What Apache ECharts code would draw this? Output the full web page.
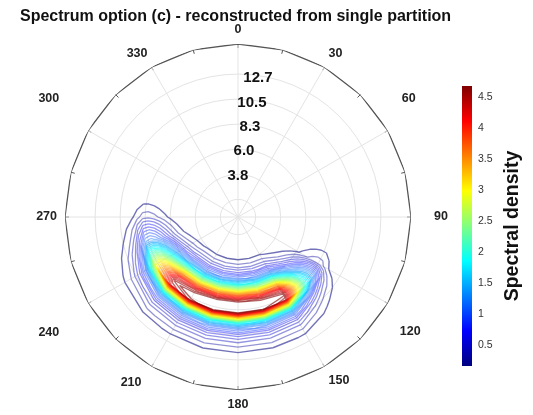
<!DOCTYPE html>
<html><head><meta charset="utf-8">
<script src="https://cdn.jsdelivr.net/npm/echarts@6/dist/echarts.min.js"></script>
<style>html,body{margin:0;padding:0;background:#fff}#c{width:533px;height:415px}</style>
</head><body><div id="c"></div>
<script>
// ---------- data ----------
const titleText = 'Spectrum option (c) - reconstructed from single partition';
const angleTickLabels = [0, 30, 60, 90, 120, 150, 180, 210, 240, 270, 300, 330];
const ringValues = [1.57, 3.8, 6.03, 8.26, 10.49, 12.72];
const ringLabelValues = [3.8, 6.03, 8.26, 10.49, 12.72];
const radiusMax = 15.4;
// directional spreading (relative), directions in degrees (nautical, clockwise from north)
const directions = [0, 15, 30, 45, 60, 75, 90, 105, 120, 135, 150, 165, 180, 195, 210, 225, 240, 255, 270, 285, 300, 315, 330, 345, 360];
const directionalSpread = [0, 0, 0, 0, 0, 0, 0, 0, 0.07, 0.42, 0.93, 0.98, 1.0, 1.0, 0.96, 0.9, 0.6, 0.25, 0.07, 0, 0, 0, 0, 0, 0];
// radial spectral density profile along the peak direction
const radii = [0, 0.5, 1, 1.5, 2, 2.5, 3, 3.5, 4, 4.5, 5, 5.5, 6, 6.5, 7, 7.5, 8, 8.5, 9, 9.5, 10, 10.5, 11, 11.5, 12, 12.5, 13, 13.5, 14, 14.5, 15];
const radialDensity = [0, 0, 0, 0, 0, 0.01, 0.04, 0.1, 0.2, 0.38, 0.65, 1.1, 1.8, 2.7, 3.7, 4.6, 5.1, 4.8, 3.2, 1.8, 1.1, 0.7, 0.45, 0.3, 0.17, 0.1, 0.06, 0.03, 0.015, 0.005, 0];
const colorbarTicks = [0.5, 1, 1.5, 2, 2.5, 3, 3.5, 4, 4.5];
const levelMin = 0.16, levelMax = 4.68, levelCount = 40;

// ---------- helpers ----------
const FONT = 'Liberation Sans, Arial, sans-serif';
function clamp(v){ return Math.max(0, Math.min(1, v)); }
function jet(t, a){
  t = clamp(t);
  const r = clamp(1.5 - Math.abs(4 * t - 3));
  const g = clamp(1.5 - Math.abs(4 * t - 2));
  const b = clamp(1.5 - Math.abs(4 * t - 1));
  return 'rgba(' + Math.round(r*255) + ',' + Math.round(g*255) + ',' + Math.round(b*255) + ',' + (a == null ? 1 : a) + ')';
}
const levels = [];
for (let k = 0; k < levelCount; k++) levels.push(levelMin + (levelMax - levelMin) * k / (levelCount - 1));

const F = directions.map((d, i) => radii.map((r, j) => directionalSpread[i] * radialDensity[j]));

function contourSegments(level){
  const segs = [];
  for (let i = 0; i < directions.length - 1; i++) {
    for (let j = 0; j < radii.length - 1; j++) {
      const P = [[directions[i], radii[j], F[i][j]], [directions[i+1], radii[j], F[i+1][j]],
                 [directions[i+1], radii[j+1], F[i+1][j+1]], [directions[i], radii[j+1], F[i][j+1]]];
      const above = P.map(p => p[2] >= level);
      const pts = [];
      for (let e = 0; e < 4; e++) {
        const p = P[e], q = P[(e+1) % 4];
        if (above[e] !== above[(e+1) % 4]) {
          const t = (level - p[2]) / (q[2] - p[2]);
          pts.push({e: e, th: p[0] + t * (q[0] - p[0]), r: p[1] + t * (q[1] - p[1])});
        }
      }
      if (pts.length === 2) segs.push([pts[0], pts[1]]);
      else if (pts.length === 4) {
        const c = (P[0][2] + P[1][2] + P[2][2] + P[3][2]) / 4;
        if ((c >= level) === above[0]) { segs.push([pts[0], pts[1]]); segs.push([pts[2], pts[3]]); }
        else { segs.push([pts[3], pts[0]]); segs.push([pts[1], pts[2]]); }
      }
    }
  }
  return segs;
}
const levelSegments = levels.map(contourSegments);
const levelColors = levels.map((l, k) => {
  const t = (l - levelMin) / (levelMax - levelMin);
  return jet(t, k === 0 ? 0.55 : (t < 0.28 ? 0.42 : 0.6));
});

const outlineAngles = [];
for (let a = 0; a <= 360; a += 15) outlineAngles.push(a);

const jetStops = [];
for (let k = 0; k <= 16; k++) jetStops.push({offset: k / 16, color: jet(k / 16)});

// label placement tweaks (style only): padding per angle label [top, right, bottom, left]
const baseLabel = {fontSize: 12.5, fontWeight: 'bold', fontFamily: FONT, color: '#222'};
const angleRich = {
  n: Object.assign({}, baseLabel),
  a60: Object.assign({padding: [0, 0, 21, 7]}, baseLabel),
  a90: Object.assign({padding: [0, 0, 0, 15]}, baseLabel),
  a120: Object.assign({padding: [18, 0, 0, 5]}, baseLabel),
  a210: Object.assign({padding: [2, 6, 0, 0]}, baseLabel),
  a240: Object.assign({padding: [19, 22, 0, 0]}, baseLabel),
  a300: Object.assign({padding: [0, 22, 21, 0]}, baseLabel)
};

// ---------- chart ----------
const chart = echarts.init(document.getElementById('c'), null, {renderer: 'canvas'});
const center = [238, 217];
const R = 173;
chart.setOption({
  animation: false,
  backgroundColor: '#fff',
  title: {text: titleText, left: 15, top: 4,
    textStyle: {fontSize: 16, fontWeight: 'bold', fontFamily: FONT, color: '#111'}},
  polar: [{center: center, radius: R}, {center: center, radius: R}],
  angleAxis: [{
    polarIndex: 0, type: 'value', min: 0, max: 360, interval: 30, startAngle: 90, clockwise: true,
    axisLine: {show: false},
    axisTick: {show: true, inside: true, length: 4, lineStyle: {color: '#555'}},
    minorTick: {show: true, splitNumber: 2, length: 4, lineStyle: {color: '#555'}},
    axisLabel: {customValues: angleTickLabels, margin: 8,
      formatter: function (v) { const key = angleRich['a' + v] ? 'a' + v : 'n'; return '{' + key + '|' + v + '}'; },
      rich: angleRich,
      fontSize: 12.5, fontWeight: 'bold', fontFamily: FONT, color: '#222'},
    splitLine: {show: true, lineStyle: {color: '#e4e4e4', width: 1}}
  }, {
    polarIndex: 1, type: 'value', min: 0, max: 360, startAngle: 76, show: false
  }],
  radiusAxis: [{
    polarIndex: 0, type: 'value', min: 0, max: radiusMax,
    axisLine: {show: false},
    axisTick: {show: false, customValues: ringValues},
    axisLabel: {show: false, customValues: ringValues},
    splitLine: {show: true, lineStyle: {color: '#e4e4e4', width: 1}}
  }, {
    polarIndex: 1, type: 'value', min: 0, max: radiusMax,
    axisLine: {show: false}, axisTick: {show: false, customValues: ringLabelValues}, splitLine: {show: false},
    axisLabel: {show: true, customValues: ringLabelValues, margin: 0, rotate: 0, align: 'right', verticalAlign: 'middle',
      formatter: v => Number(v).toFixed(1),
      fontSize: 15, fontWeight: 'bold', fontFamily: FONT, color: '#111'}
  }],
  grid: {left: 462, top: 86, width: 10, height: 280},
  xAxis: {type: 'value', min: 0, max: 1, show: false},
  yAxis: {type: 'value', min: levelMin, max: levelMax, position: 'right',
    axisLine: {show: false}, axisTick: {show: false}, splitLine: {show: false},
    axisLabel: {customValues: colorbarTicks, margin: 6, fontSize: 10.5, fontFamily: FONT, color: '#333'},
    name: 'Spectral density', nameLocation: 'middle', nameRotate: 90, nameGap: 31,
    nameTextStyle: {fontSize: 19.5, fontWeight: 'bold', fontFamily: FONT, color: '#111'}},
  series: [{
    type: 'custom', coordinateSystem: 'polar', polarIndex: 0, silent: true, clip: false,
    data: levels.map((l, i) => [0, 0, i]),
    renderItem: function (params, api) {
      const segs = levelSegments[params.dataIndex];
      if (!segs.length) return null;
      let d = '';
      for (const s of segs) {
        const p = api.coord([s[0].r, s[0].th]);
        const q = api.coord([s[1].r, s[1].th]);
        d += 'M' + p[0].toFixed(2) + ' ' + p[1].toFixed(2) + 'L' + q[0].toFixed(2) + ' ' + q[1].toFixed(2);
      }
      return {type: 'path', shape: {pathData: d}, style: {fill: null, stroke: levelColors[params.dataIndex], lineWidth: params.dataIndex === 0 ? 1.4 : 1.3}};
    }
  }, {
    type: 'line', coordinateSystem: 'polar', polarIndex: 0, silent: true, symbol: 'none', clip: false,
    data: outlineAngles.map(a => [radiusMax, a]),
    lineStyle: {color: '#555', width: 1.3}
  }, {
    type: 'custom', coordinateSystem: 'cartesian2d', silent: true,
    data: [[0, levelMin]],
    renderItem: function (params, api) {
      const p0 = api.coord([0, levelMax]);
      const p1 = api.coord([1, levelMin]);
      return {type: 'rect', shape: {x: p0[0], y: p0[1], width: p1[0] - p0[0], height: p1[1] - p0[1]},
        style: {fill: {type: 'linear', x: 0, y: 1, x2: 0, y2: 0, colorStops: jetStops}}};
    }
  }]
});
</script></body></html>
